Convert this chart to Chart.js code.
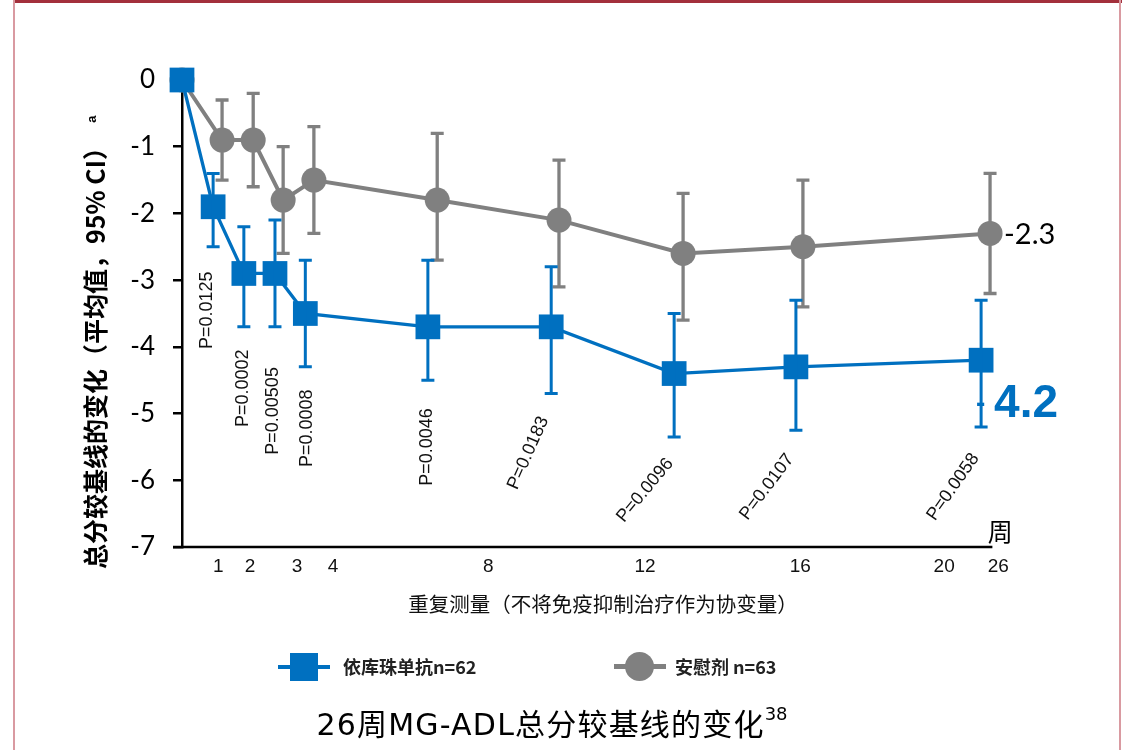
<!DOCTYPE html>
<html>
<head>
<meta charset="utf-8">
<script src="https://cdn.jsdelivr.net/npm/chart.js@4.4.1/dist/chart.umd.min.js"></script>
<style>
  html, body { margin: 0; padding: 0; background: #fff; }
  .frame { position: relative; width: 1122px; height: 750px; overflow: hidden; }
  .edge-top { position: absolute; left: 13px; top: 0; width: 1109px; height: 3px; background: #a3303c; }
  .edge-l { position: absolute; left: 13px; top: 0; width: 2px; height: 750px; background: #d99aa1; }
  .edge-r { position: absolute; left: 1119px; top: 0; width: 2px; height: 750px; background: #d99aa1; }
  canvas { position: absolute; left: 0; top: 0; }
  .xtitle { position: absolute; left: 603px; top: 592px; transform: translateX(-50%); white-space: nowrap;
    font: 20.5px/22px "Noto Sans CJK SC", sans-serif; color: #111; }
  .leg { position: absolute; }
  .leg-line-b { left: 278px; top: 665px; width: 52px; height: 4px; background: #0070C0; }
  .leg-sq { left: 290px; top: 653px; width: 28px; height: 28px; background: #0070C0; }
  .leg-line-g { left: 614px; top: 664px; width: 52px; height: 5px; background: #808080; }
  .leg-dot { left: 625px; top: 652px; width: 29px; height: 29px; border-radius: 50%; background: #808080; }
  .leg-txt { position: absolute; top: 656px; white-space: nowrap; font: bold 18px/20px "Noto Sans CJK SC", sans-serif; color: #222; }
  .caption { position: absolute; left: 552px; top: 708px; transform: translateX(-50%); white-space: nowrap;
    font: 30px/34px "DejaVu Sans", "Noto Sans CJK SC", sans-serif; letter-spacing: 1.2px; color: #000; }
  .caption sup { font-size: 18px; position: relative; top: -3px; vertical-align: top; line-height: 18px; letter-spacing: 0; }
</style>
</head>
<body>
<div class="frame">
  <div class="edge-top"></div><div class="edge-l"></div><div class="edge-r"></div>
  <canvas id="mgChart" width="1122" height="750"></canvas>
  <div class="xtitle">重复测量（不将免疫抑制治疗作为协变量）</div>
  <div class="leg leg-line-b"></div><div class="leg leg-sq"></div>
  <div class="leg-txt" style="left:343px">依库珠单抗n=62</div>
  <div class="leg leg-line-g"></div><div class="leg leg-dot"></div>
  <div class="leg-txt" style="left:675px">安慰剂 n=63</div>
  <div class="caption">26周MG-ADL总分较基线的变化<sup>38</sup></div>
</div>
<script>
(function(){
  // ---------- Data ----------
  // x axis is not to scale in the original, so ticks sit at their drawn positions
  const weekTickLabels = ['1', '2', '3', '4', '8', '12', '16', '20', '26'];
  const weekTickPos = [0.93, 1.75, 2.96, 3.88, 7.87, 11.9, 15.89, 19.59, 20.98];

  const ecuX    = [0, 0.8, 1.59, 2.39, 3.17, 6.32, 9.49, 12.65, 15.78, 20.54];
  const ecuMean = [0, -1.9, -2.9, -2.9, -3.5, -3.7, -3.7, -4.4, -4.3, -4.2];
  const ecuLow  = [null, -2.5, -3.7, -3.7, -4.3, -4.5, -4.7, -5.35, -5.25, -5.2];
  const ecuHigh = [null, -1.4, -2.2, -2.1, -2.7, -2.7, -2.8, -3.5, -3.3, -3.3];

  const pboX    = [0, 1.03, 1.83, 2.6, 3.39, 6.56, 9.69, 12.88, 15.96, 20.77];
  const pboMean = [0, -0.9, -0.9, -1.8, -1.5, -1.8, -2.1, -2.6, -2.5, -2.3];
  const pboLow  = [null, -1.5, -1.6, -2.6, -2.3, -2.7, -3.1, -3.6, -3.4, -3.2];
  const pboHigh = [null, -0.3, -0.2, -1.0, -0.7, -0.8, -1.2, -1.7, -1.5, -1.4];

  // P values belong to the eculizumab points 1..9
  const pValues = ['P=0.0125', 'P=0.0002', 'P=0.00505', 'P=0.0008', 'P=0.0046', 'P=0.0183', 'P=0.0096', 'P=0.0107', 'P=0.0058'];

  const BLUE = '#0070C0';
  const GREY = '#808080';

  // placement of the p-value labels: x offset from the point, centre in y units, rotation
  const pLayout = [
    {dx: -6,  y: -3.45, rot: -90},
    {dx: -1,  y: -4.62, rot: -90},
    {dx: -2,  y: -4.96, rot: -90},
    {dx: 2,   y: -5.22, rot: -90},
    {dx: -1,  y: -5.5,  rot: -90},
    {dx: -23, y: -5.59, rot: -66},
    {dx: -29, y: -6.15, rot: -50},
    {dx: -29, y: -6.1,  rot: -53},
    {dx: -28, y: -6.1,  rot: -55}
  ];

  const toPts = (xs, ys)=> xs.map((x, i)=>({x, y: ys[i]}));

  // ---------- Plugins ----------
  const errorBars = {
    id: 'errorBars',
    afterDatasetDraw(chart, args){
      const ds = chart.data.datasets[args.index];
      if (!ds.errLow) return;
      const {ctx, scales:{y}} = chart;
      ctx.save();
      ctx.strokeStyle = ds.borderColor;
      ctx.lineWidth = ds.errWidth;
      ctx.lineCap = 'butt';
      args.meta.data.forEach((pt, i)=>{
        const lo = ds.errLow[i], hi = ds.errHigh[i];
        if (lo == null) return;
        const y1 = y.getPixelForValue(lo), y2 = y.getPixelForValue(hi);
        ctx.beginPath();
        ctx.moveTo(pt.x, y1); ctx.lineTo(pt.x, y2);
        ctx.moveTo(pt.x - 6.5, y1); ctx.lineTo(pt.x + 6.5, y1);
        ctx.moveTo(pt.x - 6.5, y2); ctx.lineTo(pt.x + 6.5, y2);
        ctx.stroke();
      });
      ctx.restore();
    }
  };

  const decorations = {
    id: 'decorations',
    beforeDatasetsDraw(chart){
      const {ctx, chartArea:a, scales:{x}} = chart;
      // x axis line runs a little past the y axis on the left
      ctx.save();
      ctx.strokeStyle = '#000';
      ctx.lineWidth = 2.5;
      ctx.beginPath();
      ctx.moveTo(a.left - 9, a.bottom);
      ctx.lineTo(x.getPixelForValue(20.83), a.bottom);
      ctx.stroke();
      ctx.restore();
    },
    afterDraw(chart){
      const {ctx, chartArea:a, scales:{x, y}} = chart;
      ctx.save();

      // y axis title, rotated, with superscript a
      ctx.translate(95, 352);
      ctx.rotate(-Math.PI/2);
      ctx.font = 'bold 25px "Noto Sans CJK SC", sans-serif';
      ctx.fillStyle = '#000';
      ctx.textAlign = 'center';
      ctx.textBaseline = 'middle';
      const yTitle = '总分较基线的变化（平均值，95% CI）';
      const w = ctx.measureText(yTitle).width;
      ctx.fillText(yTitle, 0, 0);
      ctx.font = 'bold 13px "Liberation Sans", sans-serif';
      ctx.fillText('a', w/2 + 16, -3);
      ctx.restore();

      // p-value labels under the eculizumab points
      const ecu = chart.getDatasetMeta(0).data;
      ctx.save();
      ctx.font = '18px "Liberation Sans", Arial, sans-serif';
      ctx.fillStyle = '#111';
      ctx.textAlign = 'center';
      ctx.textBaseline = 'middle';
      pValues.forEach((txt, i)=>{
        const pt = ecu[i + 1];
        const L = pLayout[i];
        ctx.save();
        ctx.translate(pt.x + L.dx, y.getPixelForValue(L.y));
        ctx.rotate(L.rot * Math.PI / 180);
        ctx.fillText(txt, 0, 0);
        ctx.restore();
      });
      ctx.restore();

      // end-of-line values
      const lastE = ecu[ecu.length - 1];
      const pbo = chart.getDatasetMeta(1).data;
      const lastP = pbo[pbo.length - 1];
      ctx.save();
      ctx.textAlign = 'left';
      ctx.textBaseline = 'middle';
      ctx.fillStyle = '#000';
      ctx.font = '29px Lato, sans-serif';
      ctx.fillText(pboMean[pboMean.length - 1].toFixed(1), lastP.x + 14, lastP.y + 1);

      // -4.2: short minus that sits on the error bar, bold digits after it
      const endVal = ecuMean[ecuMean.length - 1];
      ctx.textBaseline = 'alphabetic';
      ctx.fillStyle = BLUE;
      ctx.font = 'bold 28px "Liberation Sans", Arial, sans-serif';
      ctx.fillText('-', lastE.x - 5, lastE.y + 52);
      ctx.font = 'bold 46px "Liberation Sans", Arial, sans-serif';
      ctx.fillText(Math.abs(endVal).toFixed(1), lastE.x + 13, lastE.y + 57);

      // unit label at the end of the x axis
      ctx.fillStyle = '#000';
      ctx.textAlign = 'center';
      ctx.textBaseline = 'middle';
      ctx.font = '25px "Noto Sans CJK SC", sans-serif';
      ctx.fillText('周', x.getPixelForValue(weekTickPos[weekTickPos.length - 1]) + 2, a.bottom - 16);
      ctx.restore();
    }
  };

  Chart.defaults.font.family = 'Lato, "Liberation Sans", sans-serif';
  Chart.defaults.color = '#000';

  new Chart(document.getElementById('mgChart'), {
    type: 'line',
    data: {
      datasets: [
        {
          label: '依库珠单抗n=62',
          data: toPts(ecuX, ecuMean),
          errLow: ecuLow, errHigh: ecuHigh, errWidth: 3,
          borderColor: BLUE,
          backgroundColor: BLUE,
          borderWidth: 3.3,
          pointStyle: 'rect',
          pointRadius: 17.5,
          pointBorderWidth: 0,
          pointBackgroundColor: BLUE,
          tension: 0,
          clip: false
        },
        {
          label: '安慰剂 n=63',
          data: toPts(pboX, pboMean),
          errLow: pboLow, errHigh: pboHigh, errWidth: 3.3,
          borderColor: GREY,
          backgroundColor: GREY,
          borderWidth: 4,
          pointStyle: 'circle',
          pointRadius: 12.5,
          pointBorderWidth: 0,
          pointBackgroundColor: GREY,
          tension: 0,
          clip: false
        }
      ]
    },
    options: {
      responsive: false,
      animation: false,
      devicePixelRatio: 1,
      layout: {padding: {top: 80, right: 123, left: 0, bottom: 0}},
      plugins: {legend: {display: false}, tooltip: {enabled: false}},
      scales: {
        x: {
          type: 'linear',
          min: 0, max: 21,
          border: {display: false},
          grid: {display: false, drawTicks: false},
          afterBuildTicks: (s)=>{ s.ticks = weekTickPos.map(v=>({value: v})); },
          afterFit: (s)=>{ s.height = 203; },
          ticks: {
            autoSkip: false, maxRotation: 0, padding: 8,
            font: {family: '"Liberation Sans", Arial, sans-serif', size: 19},
            color: '#111',
            callback: (v, i)=> weekTickLabels[i]
          }
        },
        y: {
          min: -7, max: 0,
          border: {display: true, color: '#000', width: 2.5},
          grid: {drawOnChartArea: false, drawTicks: true, tickLength: 9, color: '#000', lineWidth: 2.5},
          afterFit: (s)=>{ s.width = 182; },
          ticks: {stepSize: 1, padding: 18, font: {size: 26}, color: '#000'}
        }
      }
    },
    plugins: [errorBars, decorations]
  });
})();
</script>
</body>
</html>
